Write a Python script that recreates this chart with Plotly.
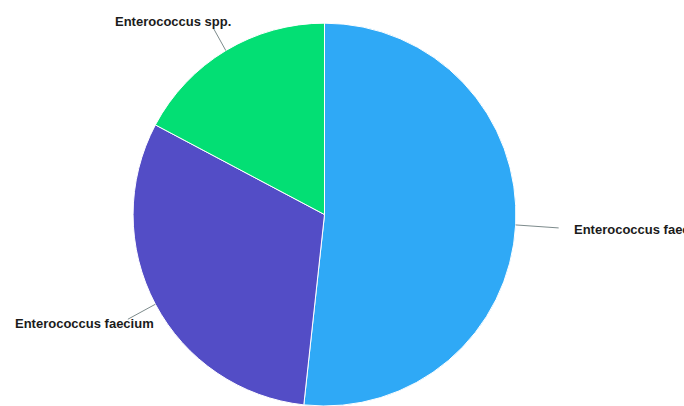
import math
import plotly.graph_objects as go

# Share of isolates by species
species = ["Enterococcus faecalis", "Enterococcus faecium", "Enterococcus spp."]
counts = [15, 9, 5]
colors = ["#2FA9F6", "#534DC6", "#03DF74"]

W, H = 684, 406
CX = 324.5                      # pie centre, px from left
DOM_Y = [0.0, 0.943]            # vertical domain of the pie
R = (DOM_Y[1] - DOM_Y[0]) * H / 2
CY = H - (DOM_Y[0] + DOM_Y[1]) / 2 * H  # centre, px from top

# Leader-line and label placement per slice (pixel offsets)
line_off = [(43, 3), (-27.5, 15), (-12.5, -22.5)]
text_off = [(13, 2), (-43.5, 4), (-40.5, -7)]
text_anchor = ["left", "center", "center"]

fig = go.Figure(go.Pie(
    labels=species,
    values=counts,
    sort=False,
    direction="clockwise",
    rotation=0,
    textinfo="none",
    hoverinfo="label+value+percent",
    marker=dict(colors=colors, line=dict(color="white", width=1)),
    domain=dict(x=[0, 2 * CX / W], y=DOM_Y),
    showlegend=False,
))


def px(x, y):
    return x / W, 1 - y / H


total = sum(counts)
cum = 0
shapes, annotations = [], []
for i, (name, v) in enumerate(zip(species, counts)):
    mid = (cum + v / 2) / total * 2 * math.pi
    cum += v
    sx = CX + R * math.sin(mid)
    sy = CY - R * math.cos(mid)
    ex, ey = sx + line_off[i][0], sy + line_off[i][1]
    x0, y0 = px(sx, sy)
    x1, y1 = px(ex, ey)
    shapes.append(dict(type="line", xref="paper", yref="paper",
                       x0=x0, y0=y0, x1=x1, y1=y1,
                       line=dict(color="#7d8b8c", width=1)))
    tx, ty = px(ex + text_off[i][0], ey + text_off[i][1])
    annotations.append(dict(
        text=name, x=tx, y=ty, xref="paper", yref="paper",
        xanchor=text_anchor[i], yanchor="middle", showarrow=False,
        font=dict(family="Liberation Sans, Arial, sans-serif", size=13,
                  color="#1b1b1b", weight="bold"),
    ))

fig.update_layout(
    width=W, height=H,
    margin=dict(l=0, r=0, t=0, b=0),
    paper_bgcolor="white",
    plot_bgcolor="white",
    shapes=shapes,
    annotations=annotations,
)

fig.write_html("out.html")
